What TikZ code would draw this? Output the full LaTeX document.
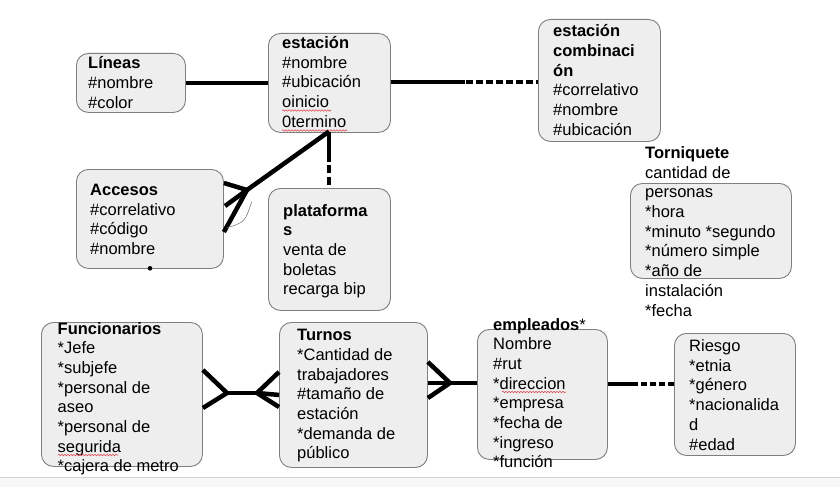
\documentclass[tikz,border=0pt]{standalone}
\usepackage{fontspec}
\setmainfont{Liberation Sans}
\usetikzlibrary{calc,decorations.pathmorphing}
\definecolor{boxgray}{HTML}{7F7F7F}
\definecolor{boxfill}{HTML}{EEEEEE}
\definecolor{spellred}{HTML}{E0454F}
\newcommand\blk[1]{\parbox[t]{300pt}{\raggedright\fontsize{16.5}{19.7}\selectfont #1}}
\begin{document}
\begin{tikzpicture}[x=1pt,y=-1pt,
  box/.style={draw=boxgray, fill=boxfill, rounded corners=12pt, line width=0.9pt, inner sep=0pt, anchor=north west},
  txt/.style={anchor=base west, inner sep=0pt, text=black},
  rel/.style={line width=4.5pt, black},
  spell/.style={draw=spellred, line width=0.6pt, decorate, decoration={snake, amplitude=0.7pt, segment length=3pt}}]
\useasboundingbox (0,0) rectangle (840,487);
\fill[white] (0,0) rectangle (840,487);
\fill[gray!6] (0,478) rectangle (840,487);
\draw[gray!35, line width=0.8pt] (0,477.5) -- (840,477.5);

% boxes
\node[box, minimum width=109pt, minimum height=59pt] (lineas) at (76,53) {};
\node[box, minimum width=122pt, minimum height=99pt] (estacion) at (268,33) {};
\node[box, minimum width=122pt, minimum height=122pt] (comb) at (538,19) {};
\node[box, minimum width=147pt, minimum height=99pt] (accesos) at (76,169) {};
\node[box, minimum width=122pt, minimum height=122pt] (plataf) at (268,188) {};
\node[box, minimum width=161pt, minimum height=95pt] (torn) at (630,183) {};
\node[box, minimum width=161pt, minimum height=144pt] (func) at (41,322) {};
\node[box, minimum width=148pt, minimum height=145pt] (turnos) at (279,322) {};
\node[box, minimum width=130pt, minimum height=130pt] (empl) at (477,329) {};
\node[box, minimum width=121pt, minimum height=122pt] (riesgo) at (674,333) {};

% texts
\node[txt] (tlineas) at (88,69) {\blk{\textbf{Líneas}\\\#nombre\\\#color}};
\node[txt] (testacion) at (282,48.5) {\blk{\textbf{estación}\\\#nombre\\\#ubicación\\oinicio\\0termino}};
\node[txt] (tcomb) at (553,36.7) {\blk{\textbf{estación}\\\textbf{combinaci}\\\textbf{ón}\\\#correlativo\\\#nombre\\\#ubicación}};
\node[txt] (taccesos) at (90,195.5) {\blk{\textbf{Accesos}\\\#correlativo\\\#código\\\#nombre}};
\node[txt] (tplataf) at (283,216) {\blk{\textbf{plataforma}\\\textbf{s}\\venta de\\boletas\\recarga bip}};
\node[txt] (ttorn) at (645,158.4) {\blk{\textbf{Torniquete}\\cantidad de\\personas\\{}*hora\\{}*minuto *segundo\\{}*número simple\\{}*año de\\instalación\\{}*fecha}};
\node[txt] (tfunc) at (57.5,334) {\blk{\textbf{Funcionarios}\\{}*Jefe\\{}*subjefe\\{}*personal de\\aseo\\{}*personal de\\segurida\\{}*cajera de metro}};
\node[txt] (tturnos) at (297,340.7) {\blk{\textbf{Turnos}\\{}*Cantidad de\\trabajadores\\\#tamaño de\\estación\\{}*demanda de\\público}};
\node[txt] (templ) at (493,330) {\blk{\textbf{empleados}*\\Nombre\\\#rut\\{}*direccion\\{}*empresa\\{}*fecha de\\{}*ingreso\\{}*función}};
\node[txt] (triesgo) at (689,351.5) {\blk{Riesgo\\{}*etnia\\{}*género\\{}*nacionalida\\d\\\#edad}};

% spell-check marks
\draw[spell] (282,110.5) -- (331,110.5);
\draw[spell] (282,130.5) -- (347,130.5);
\draw[spell] (58,455) -- (118,455);
\draw[spell] (502,392) -- (566,392);

% Lineas - estacion
\draw[rel] (lineas.east) -- (estacion.west);

% estacion - estacion combinacion
\coordinate (ecM) at (465,82);
\draw[rel] (estacion.east |- ecM) -- (ecM);
\draw[rel, line width=4pt, dash pattern=on 7pt off 3pt] ($(ecM)+(1,0)$) -- (comb.west |- ecM);

% estacion - accesos
\coordinate (estB) at (329,131.5);
\coordinate (accJ) at (247,190);
\draw[rel] (estB) -- (accJ);
\draw[rel] (accJ) -- (accesos.east |- 0,183);
\draw[rel] (accJ) -- (225,206);
\draw[rel] (accJ) -- (accesos.east |- 0,232);
\draw[gray, line width=0.6pt] (226.7,228) .. controls (245,222) .. (251.7,201.7);
\fill (150,268.3) circle (2.3pt);

% estacion - plataformas
\draw[rel] (estB) -- ++(0,30);
\draw[rel, dash pattern=on 8pt off 4pt] ($(estB)+(0,33)$) -- (estB |- plataf.north);

% Funcionarios - Turnos
\coordinate (fJ) at (227,393);
\coordinate (tJ) at (257,393);
\draw[rel] (fJ) -- (tJ);
\draw[rel] (fJ) -- (func.east |- 0,370);
\draw[rel] (fJ) -- (func.east |- 0,408);
\draw[rel] (tJ) -- (turnos.west |- 0,372);
\draw[rel] (tJ) -- (turnos.west |- 0,407);
\draw[rel] (tJ) -- (turnos.west);

% Turnos - empleados
\coordinate (eJ) at (450,383);
\draw[rel] (turnos.east |- eJ) -- (empl.west |- eJ);
\draw[rel] (eJ) -- (turnos.east |- 0,362);
\draw[rel] (eJ) -- (turnos.east |- 0,398);

% empleados - Riesgo
\coordinate (rM) at (638,384);
\draw[rel] (empl.east |- rM) -- (rM);
\draw[rel, line width=4pt, dash pattern=on 6pt off 3pt] ($(rM)+(3,0)$) -- (riesgo.west |- rM);
\end{tikzpicture}
\end{document}
